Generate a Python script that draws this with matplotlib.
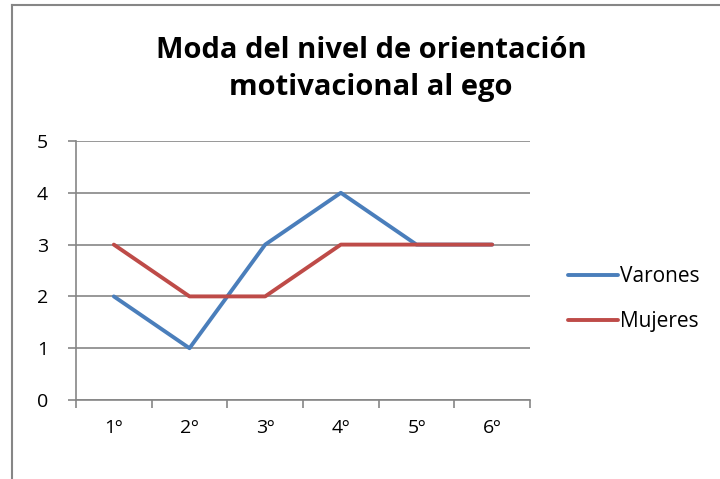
import matplotlib.pyplot as plt
from matplotlib.lines import Line2D

cursos = ['1º', '2º', '3º', '4º', '5º', '6º']
varones = [2, 1, 3, 4, 3, 3]
mujeres = [3, 2, 2, 3, 3, 3]

plt.rcParams['font.family'] = ['Open Sans', 'DejaVu Sans']

fig = plt.figure(figsize=(7.2, 4.79), dpi=100)
W, H = 720, 479
ax = fig.add_axes([76 / W, 1 - 400 / H, (530 - 76) / W, (400 - 141) / H])

x = [i + 0.5 for i in range(len(cursos))]
ax.plot(x, varones, color='#4A7EBB', lw=2.8, label='Varones', solid_capstyle='round')
ax.plot(x, mujeres, color='#BE4B48', lw=2.8, label='Mujeres', solid_capstyle='round')

ax.set_xlim(0, 6)
ax.set_ylim(0, 5)
ax.set_yticks(range(6))
ax.set_xticks(range(7))
ax.set_xticklabels([])
ax.set_xticks(x, minor=True)
ax.set_xticklabels(cursos, minor=True)
ax.tick_params(axis='x', which='minor', length=0, pad=14, labelsize=14)
ax.tick_params(axis='x', which='major', length=6, color='#868686', width=1.2)
ax.tick_params(axis='y', length=6, color='#868686', width=1.2, labelsize=14, pad=14)
ax.yaxis.grid(True, color='#868686', lw=1.2)
ax.set_axisbelow(True)
for s in ['top', 'right']:
    ax.spines[s].set_visible(False)
for s in ['left', 'bottom']:
    ax.spines[s].set_color('#868686')
    ax.spines[s].set_linewidth(1.2)

ax.legend(loc='center left', bbox_to_anchor=(1.083, 0.39), frameon=False,
          fontsize=15, handlelength=2.4, handletextpad=0.12, labelspacing=1.15,
          borderpad=0, borderaxespad=0)

fig.text(371 / W, 1 - 69 / H, 'Moda del nivel de orientación\nmotivacional al ego',
         ha='center', va='center', fontsize=21, fontweight='bold', linespacing=1.32)

# chart border
fig.add_artist(Line2D([12 / W, 12 / W], [0, 1 - 5 / H], color='#868686', lw=1.5))
fig.add_artist(Line2D([12 / W, 1], [1 - 5 / H, 1 - 5 / H], color='#868686', lw=1.5))

fig.savefig('out.png', dpi=100)
